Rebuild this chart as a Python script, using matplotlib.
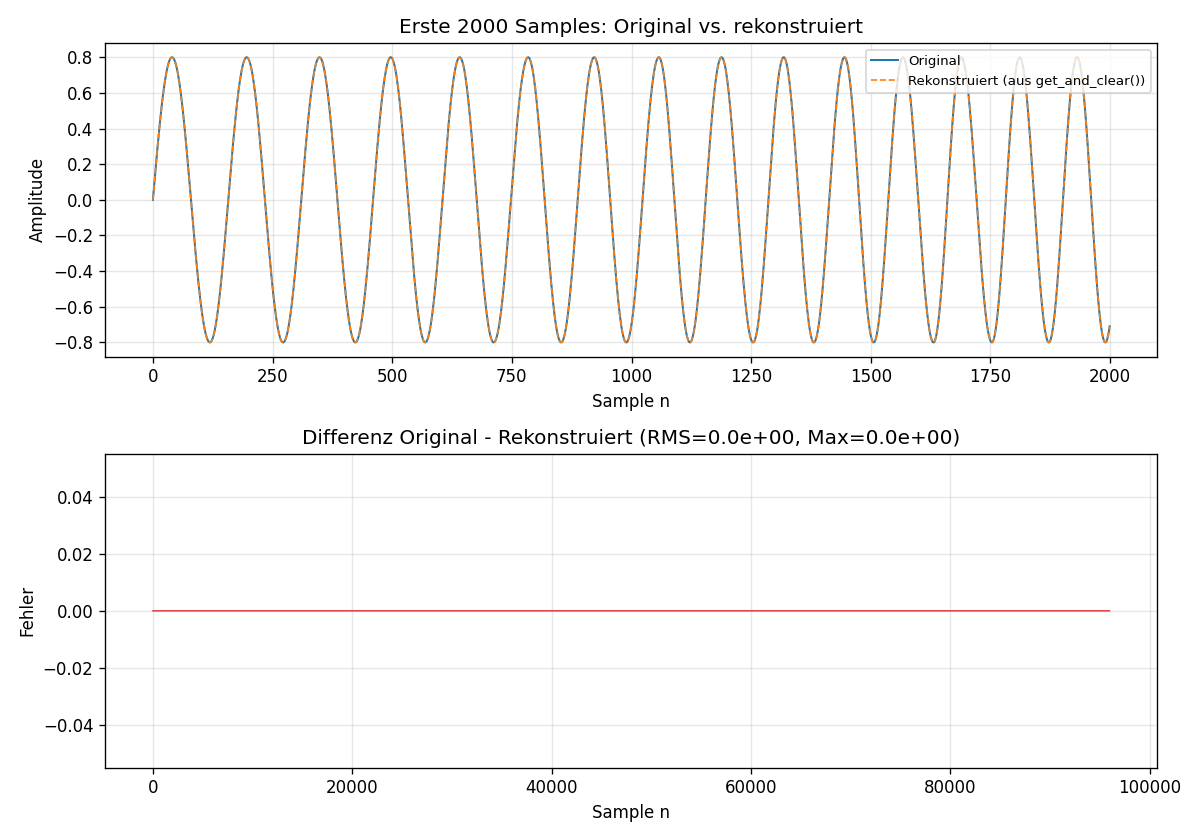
import numpy as np
import matplotlib
matplotlib.use('Agg')
import matplotlib.pyplot as plt

# Signal parameters
amplitude = 0.8
n_show = 2000          # samples shown in the upper plot
n_total = 96000        # full signal length (lower plot)

# Sample positions of the alternating peaks / troughs (peak first)
extrema_n = [40, 119, 196, 272, 348, 423, 497, 569, 641, 712,
             784, 853, 922, 989, 1057, 1122, 1188, 1254, 1318, 1381,
             1445, 1506, 1567, 1631, 1689, 1753, 1811, 1872, 1931, 1990]

# Reconstruction error is exactly zero (RMS=0, Max=0)
error_values = np.zeros(n_total)

# Build the waveform: phase is pi/2 at the first peak and grows by pi per extremum
ext = np.array(extrema_n, dtype=float)
ext_phase = np.pi / 2 + np.pi * np.arange(len(ext))
last_step = ext[-1] - ext[-2]
knots_n = np.concatenate([[0.0], ext, [ext[-1] + last_step]])
knots_phase = np.concatenate([[0.0], ext_phase, [ext_phase[-1] + np.pi]])

n = np.arange(n_show)
phase = np.interp(n, knots_n, knots_phase)
original = amplitude * np.sin(phase)
reconstructed = original.copy()

rms = np.sqrt(np.mean(error_values ** 2))
max_err = np.max(np.abs(error_values))

fig, (ax1, ax2) = plt.subplots(2, 1, figsize=(10, 7), dpi=120)

ax1.plot(n, original, linewidth=1.2, label='Original')
ax1.plot(n, reconstructed, '--', linewidth=1.0, label='Rekonstruiert (aus get_and_clear())')
ax1.set_title(f'Erste {n_show} Samples: Original vs. rekonstruiert')
ax1.set_xlabel('Sample n')
ax1.set_ylabel('Amplitude')
ax1.grid(True, alpha=0.3)
ax1.legend(loc='upper right', fontsize=8)

ax2.plot(np.arange(n_total), error_values, color='tab:red', linewidth=0.8)
ax2.set_title(f'Differenz Original - Rekonstruiert (RMS={rms:.1e}, Max={max_err:.1e})')
ax2.set_xlabel('Sample n')
ax2.set_ylabel('Fehler')
ax2.grid(True, alpha=0.3)

fig.tight_layout()
fig.savefig('out.png')
